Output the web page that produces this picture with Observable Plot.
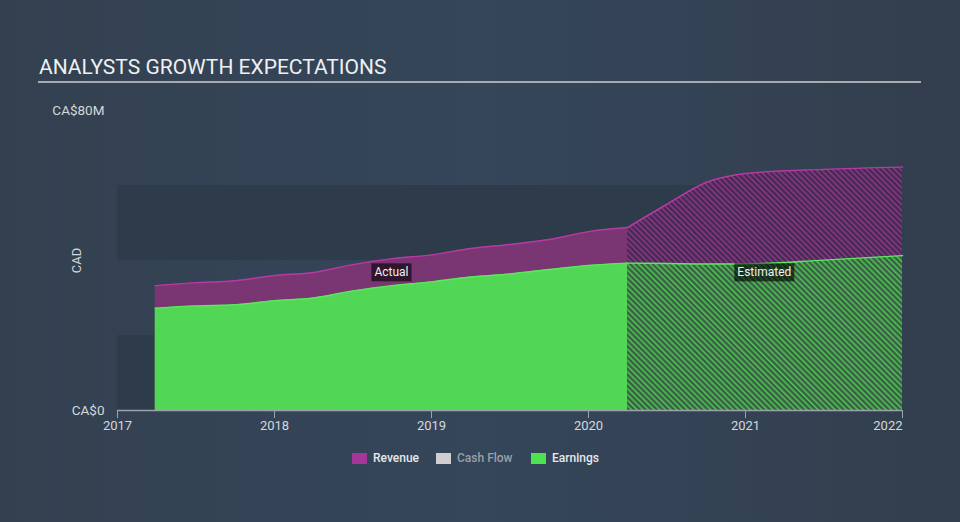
<!DOCTYPE html>
<html><head><meta charset="utf-8">
<script src="https://cdn.jsdelivr.net/npm/d3@7"></script>
<script src="https://cdn.jsdelivr.net/npm/@observablehq/plot@0.6"></script>
<style>
body{margin:0;background:#334152;}
#wrap{position:relative;width:960px;height:522px;overflow:hidden;background:linear-gradient(90deg,#334050 0%,#35465a 50%,#323e4d 100%);font-family:Roboto,sans-serif;}
#title{position:absolute;left:39px;top:55px;font-size:21px;line-height:24px;color:#eef0f2;white-space:nowrap}
#rule{position:absolute;left:38px;top:81px;width:883px;height:2px;background:#a7abb0}
#chart{position:absolute;left:0;top:0}
.lg{position:absolute;top:451px;height:14px;display:flex;align-items:center;font-size:12px;font-weight:500;white-space:nowrap}
.lg .sw{width:15px;height:11px;margin-right:6px;display:inline-block}
</style>
</head><body>
<div id="wrap">
  <div id="title">ANALYSTS GROWTH EXPECTATIONS</div>
  <div id="rule"></div>
  <div id="chart"></div>
</div>
<script>
// ---- data ----
const actualYears    = [2017.24, 2017.5, 2017.75, 2018.0, 2018.25, 2018.5, 2018.75, 2019.0, 2019.25, 2019.5, 2019.75, 2020.0, 2020.25];
const actualRevenue  = [33.3, 34.1, 34.6, 36.0, 36.8, 38.9, 40.5, 41.5, 43.2, 44.3, 45.6, 47.7, 48.8];
const actualEarnings = [27.3, 27.9, 28.2, 29.3, 30.0, 31.9, 33.3, 34.3, 35.6, 36.4, 37.6, 38.7, 39.3];
const estYears       = [2020.25, 2020.5, 2020.75, 2021.0, 2021.5, 2022.0];
const estRevenue     = [48.8, 55.0, 60.8, 63.2, 64.3, 64.9];
const estEarnings    = [39.3, 39.2, 39.1, 39.1, 40.1, 41.3];
const xDomain = [2017, 2022];
const yDomain = [0, 80];
const xTicks = [2017, 2018, 2019, 2020, 2021];
const xLastTick = [2022];
const yTicks = [0, 80];
const bandLow = [0, 40];
const bandHigh = [20, 60];
const phaseLabels = ["Actual", "Estimated"];
const phaseX = [2018.745, 2021.12];
const phaseY = [36.8, 36.8];
const legendNames = ["Revenue", "Cash Flow", "Earnings"];
const legendColors = ["#a63598", "#cfcfcf", "#4fe24f"];
const legendTextColors = ["#e6e8ea", "#9aa0a6", "#e6e8ea"];
const legendLeft = [352, 436, 531];

const actual = actualYears.map((x, i) => ({x, rev: actualRevenue[i], earn: actualEarnings[i]}));
const est = estYears.map((x, i) => ({x, rev: estRevenue[i], earn: estEarnings[i]}));
const bands = bandLow.map((lo, i) => ({lo, hi: bandHigh[i]}));

const axisColor = "#9aa3ad";
const textColor = "#d4d8dc";

const plot = Plot.plot({
  width: 960, height: 522,
  marginTop: 110, marginBottom: 112, marginLeft: 117, marginRight: 58,
  style: {background: "transparent", fontFamily: "Roboto, sans-serif", fontSize: "13px", color: textColor, overflow: "visible"},
  x: {domain: xDomain},
  y: {domain: yDomain},
  marks: [
    Plot.rect(bands, {x1: xDomain[0], x2: xDomain[1], y1: "lo", y2: "hi", fill: "#2e3b4a"}),
    Plot.areaY(actual, {x: "x", y1: "earn", y2: "rev", fill: "#7a3672", curve: "monotone-x"}),
    Plot.areaY(actual, {x: "x", y1: 0, y2: "earn", fill: "#52d655", curve: "monotone-x"}),
    Plot.areaY(est, {x: "x", y1: "earn", y2: "rev", fill: "url(#hatchP)", curve: "monotone-x"}),
    Plot.areaY(est, {x: "x", y1: 0, y2: "earn", fill: "url(#hatchG)", curve: "monotone-x"}),
    Plot.lineY(actual, {x: "x", y: "rev", stroke: "#b53aa2", strokeWidth: 1.5, curve: "monotone-x"}),
    Plot.lineY(est, {x: "x", y: "rev", stroke: "#b53aa2", strokeWidth: 1.5, curve: "monotone-x"}),
    Plot.lineY(actual, {x: "x", y: "earn", stroke: "#5de65e", strokeWidth: 1.5, curve: "monotone-x"}),
    Plot.lineY(est, {x: "x", y: "earn", stroke: "#5de65e", strokeWidth: 1.5, curve: "monotone-x"}),
    Plot.ruleY([yDomain[0]], {stroke: axisColor, strokeWidth: 1.5}),
    Plot.axisX({ticks: xTicks, tickFormat: "d", tickSize: 8, tickPadding: 2, stroke: axisColor, fill: textColor, label: null}),
    Plot.axisX({ticks: xLastTick, tickFormat: "d", tickSize: 8, tickPadding: 2, stroke: axisColor, fill: textColor, textAnchor: "end", label: null}),
    Plot.axisY({ticks: yTicks, tickFormat: d => d === 0 ? "CA$0" : `CA$${d}M`, tickSize: 0, tickPadding: 13, fill: textColor, fontSize: 13.5, label: null}),
    Plot.text(["CAD"], {frameAnchor: "left", dx: -41, rotate: -90, textAnchor: "middle", fill: textColor, fontSize: 13}),
    Plot.text(phaseLabels, {x: (d, i) => phaseX[i], y: (d, i) => phaseY[i], text: d => d, fill: "#f0f0f0", fontSize: 12})
  ]
});

document.getElementById("chart").appendChild(plot);

// hatch patterns for estimated areas
const NS = "http://www.w3.org/2000/svg";
const defs = document.createElementNS(NS, "defs");
defs.innerHTML = `
<pattern id="hatchP" width="4" height="4" patternUnits="userSpaceOnUse" patternTransform="rotate(-45)">
  <rect width="4" height="4" fill="#452a4f"></rect>
  <rect width="1.6" height="4" fill="#8a378a"></rect>
</pattern>
<pattern id="hatchG" width="4" height="4" patternUnits="userSpaceOnUse" patternTransform="rotate(-45)">
  <rect width="4" height="4" fill="#3a5e46"></rect>
  <rect width="1.5" height="4" fill="#50c853"></rect>
</pattern>`;
plot.insertBefore(defs, plot.firstChild);

// dark boxes behind phase labels
const svgBox = plot.getBoundingClientRect();
const labelTexts = Array.from(plot.querySelectorAll("text")).filter(t => phaseLabels.includes(t.textContent));
labelTexts.forEach(t => {
  const b = t.getBoundingClientRect();
  const r = document.createElementNS(NS, "rect");
  r.setAttribute("x", b.left - svgBox.left - 3);
  r.setAttribute("y", b.top - svgBox.top - 2);
  r.setAttribute("width", b.width + 6);
  r.setAttribute("height", b.height + 4);
  r.setAttribute("fill", "rgba(0,0,0,0.6)");
  const g = t.parentNode;
  const holder = document.createElementNS(NS, "g");
  holder.appendChild(r);
  g.parentNode.insertBefore(holder, g);
});

// legend
const wrap = document.getElementById("wrap");
legendNames.forEach((name, i) => {
  const d = document.createElement("div");
  d.className = "lg";
  d.style.left = legendLeft[i] + "px";
  d.style.color = legendTextColors[i];
  d.innerHTML = `<span class="sw" style="background:${legendColors[i]}"></span><span>${name}</span>`;
  wrap.appendChild(d);
});
</script>
</body></html>
